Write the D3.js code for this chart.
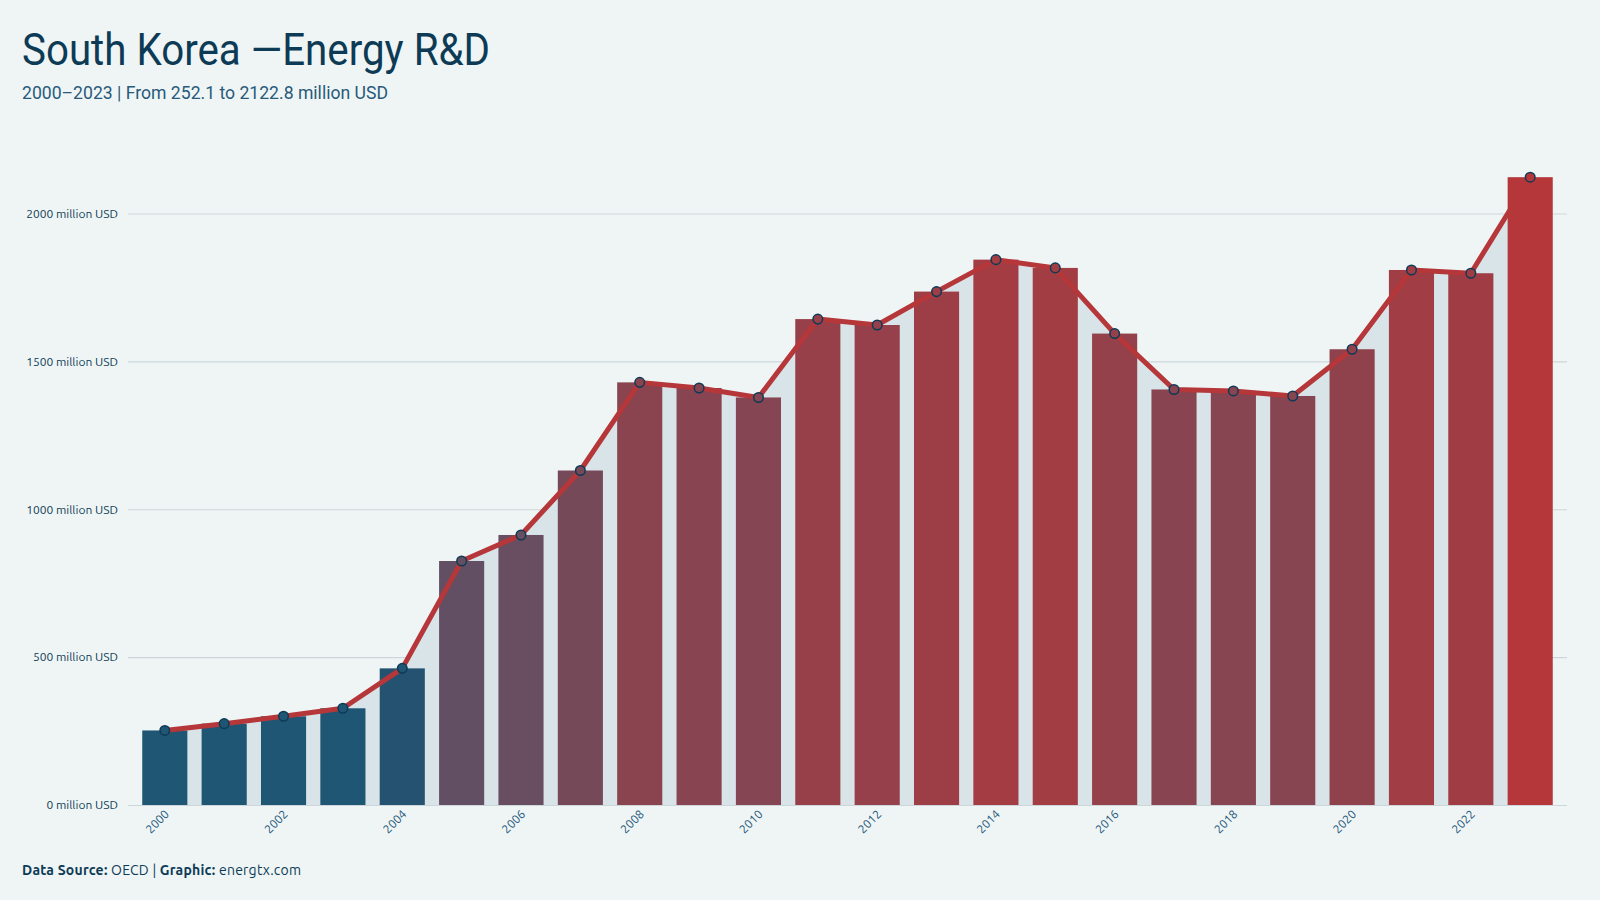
<!DOCTYPE html>
<html>
<head>
<meta charset="utf-8">
<script src="https://cdn.jsdelivr.net/npm/d3@7"></script>
<style>
    body {
        margin: 0;
        background: #eff5f5;
    }
    .yLabel {
        font-family: "Ubuntu", "Noto Sans", sans-serif;
        font-size: 12px;
        fill: #0d3b56;
    }
    .xLabel {
        font-family: "Ubuntu", "Noto Sans", sans-serif;
        font-size: 12px;
        fill: #24577a;
    }
</style>
</head>
<body>
<div id="chart"></div>
<script>
// data
var years = [2000, 2001, 2002, 2003, 2004, 2005, 2006, 2007, 2008, 2009, 2010, 2011,
    2012, 2013, 2014, 2015, 2016, 2017, 2018, 2019, 2020, 2021, 2022, 2023];
var values = [252.1, 275, 300, 327, 462, 825, 913, 1131, 1429, 1410, 1378, 1643,
    1623, 1736, 1844, 1816, 1594, 1405, 1400, 1383, 1541, 1809, 1798, 2122.8];
var yTicks = [0, 500, 1000, 1500, 2000];
var xTickYears = [2000, 2002, 2004, 2006, 2008, 2010, 2012, 2014, 2016, 2018, 2020, 2022];

var width = 1600;
var height = 900;

var theData = years.map(function(y, i) {
    return { year: y, value: values[i] };
});

var svg = d3
    .select("#chart")
    .append("svg")
    .attr("width", width)
    .attr("height", height);

svg.append("rect")
    .attr("width", width)
    .attr("height", height)
    .attr("fill", "#eff5f5");

// pattern for the 2004 bar (textured look)
var defs = svg.append("defs");
var pat = defs.append("pattern")
    .attr("id", "tex")
    .attr("width", 2)
    .attr("height", 2)
    .attr("patternUnits", "userSpaceOnUse");
pat.append("rect").attr("width", 2).attr("height", 2).attr("fill", "#1f5673");
pat.append("rect").attr("width", 1).attr("height", 1).attr("fill", "#2a4f6c");
pat.append("rect").attr("x", 1).attr("y", 1).attr("width", 1).attr("height", 1).attr("fill", "#2a4f6c");

// scales
var xScale = d3
    .scaleBand()
    .domain(years)
    .range([128, 1567])
    .padding(0.24);

var yScale = d3
    .scaleLinear()
    .domain([0, 2000])
    .range([805, 213.5]);

var colorScale = d3
    .scaleLinear()
    .domain([500, 825, 2122.8])
    .range(["#1f5673", "#634f63", "#b5373a"])
    .clamp(true);

function cx(d) {
    return xScale(d.year) + xScale.bandwidth() / 2;
}

// title
svg.append("text")
    .attr("x", 22)
    .attr("y", 65)
    .attr("textLength", 468)
    .attr("lengthAdjust", "spacingAndGlyphs")
    .style("font-family", "'Ubuntu Condensed', 'Liberation Sans Narrow', 'Roboto', sans-serif")
    .style("font-size", "45px")
    .style("fill", "#0d3b56")
    .text("South Korea \u2014Energy R&D");

svg.append("text")
    .attr("x", 22)
    .attr("y", 99)
    .attr("textLength", 366)
    .attr("lengthAdjust", "spacingAndGlyphs")
    .style("font-family", "'Ubuntu Condensed', 'Liberation Sans Narrow', 'Roboto', sans-serif")
    .style("font-size", "19px")
    .style("fill", "#285a7b")
    .text("2000\u20132023 | From 252.1 to 2122.8 million USD");

// grid + y labels
var yAxis = d3.axisLeft(yScale)
    .tickValues(yTicks)
    .tickSize(-(1567 - 128))
    .tickPadding(10)
    .tickFormat(function(d) { return d + " million USD"; });

var yG = svg.append("g")
    .attr("transform", "translate(128,0)")
    .call(yAxis);
yG.select(".domain").remove();
yG.selectAll(".tick line").attr("stroke", "#cdd7db").attr("stroke-width", 1.2);
yG.selectAll(".tick text").attr("class", "yLabel").attr("x", -10).attr("text-anchor", "end");

// area under line
var area = d3.area()
    .x(cx)
    .y0(yScale(0))
    .y1(function(d) { return yScale(d.value); });

svg.append("path")
    .datum(theData)
    .attr("d", area)
    .attr("fill", "#d9e4e9");

// bars
var lastIdx = theData.length - 1;
svg.selectAll(".bar")
    .data(theData.slice(0, lastIdx))
    .enter()
    .append("rect")
    .attr("class", "bar")
    .attr("x", function(d) { return xScale(d.year); })
    .attr("width", xScale.bandwidth())
    .attr("y", function(d) { return yScale(d.value); })
    .attr("height", function(d) { return yScale(0) - yScale(d.value); })
    .attr("fill", function(d) { return d.year === 2004 ? "url(#tex)" : colorScale(d.value); });

// line
var line = d3.line()
    .x(cx)
    .y(function(d) { return yScale(d.value); });

svg.append("path")
    .datum(theData)
    .attr("d", line)
    .attr("fill", "none")
    .attr("stroke", "#b5373a")
    .attr("stroke-width", 5)
    .attr("stroke-linejoin", "round");

// last (highest) bar sits above the line
svg.append("rect")
    .datum(theData[lastIdx])
    .attr("x", function(d) { return xScale(d.year); })
    .attr("width", xScale.bandwidth())
    .attr("y", function(d) { return yScale(d.value); })
    .attr("height", function(d) { return yScale(0) - yScale(d.value); })
    .attr("fill", function(d) { return colorScale(d.value); });

// dots
svg.selectAll(".dot")
    .data(theData)
    .enter()
    .append("circle")
    .attr("class", "dot")
    .attr("cx", cx)
    .attr("cy", function(d) { return yScale(d.value); })
    .attr("r", 4.8)
    .attr("fill", function(d) { return colorScale(d.value); })
    .attr("stroke", "#0d3b56")
    .attr("stroke-width", 1.5);

// x labels
svg.selectAll(".xLabel")
    .data(xTickYears)
    .enter()
    .append("text")
    .attr("class", "xLabel")
    .attr("text-anchor", "end")
    .attr("transform", function(d) {
        return "translate(" + (xScale(d) + xScale.bandwidth() / 2 + 5) + ",815)rotate(-45)";
    })
    .text(function(d) { return d; });

// footer
var foot = svg.append("text")
    .attr("x", 22)
    .attr("y", 875)
    .attr("textLength", 279)
    .attr("lengthAdjust", "spacing")
    .style("font-family", "'Ubuntu', 'Noto Sans', sans-serif")
    .style("font-size", "14px")
    .style("fill", "#0d3b56");
foot.append("tspan").style("font-weight", "bold").text("Data Source: ");
foot.append("tspan").text("OECD | ");
foot.append("tspan").style("font-weight", "bold").text("Graphic: ");
foot.append("tspan").text("energtx.com");
</script>
</body>
</html>
